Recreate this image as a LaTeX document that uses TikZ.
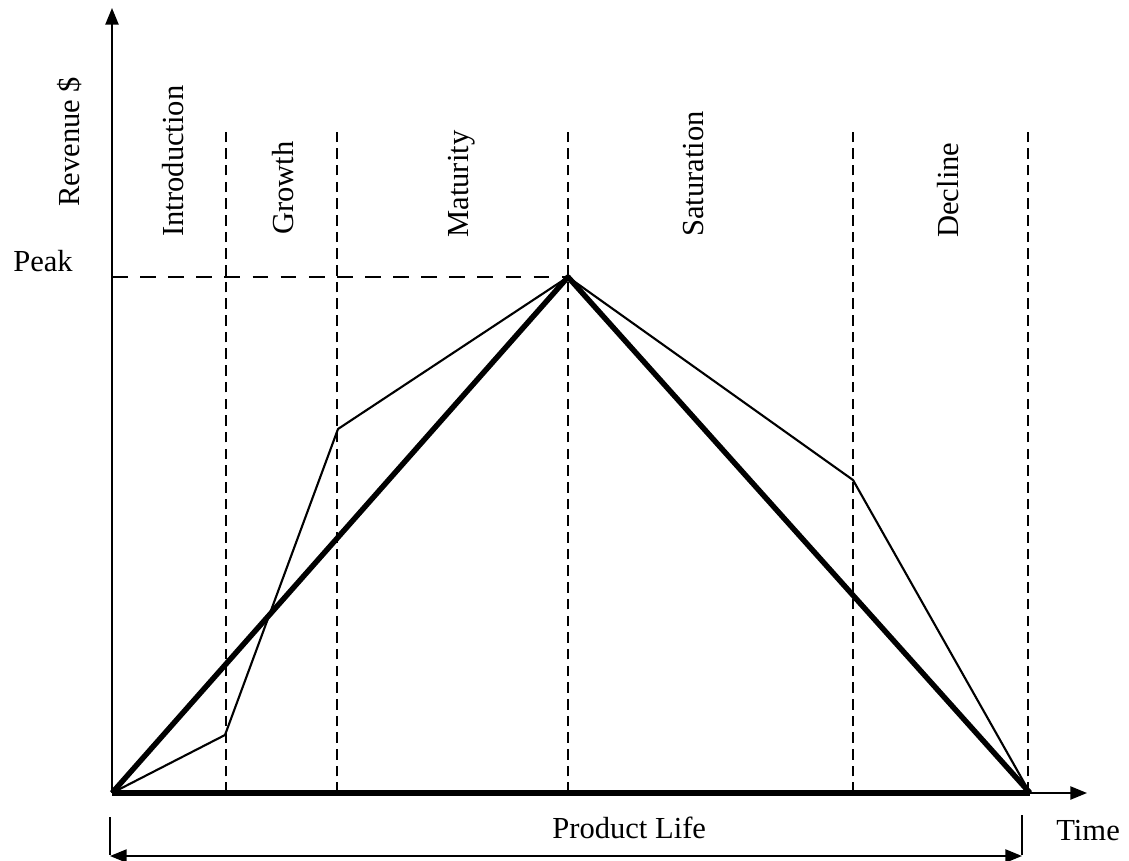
\documentclass[tikz,border=0pt]{standalone}
\usepackage{fontspec}
\setmainfont{Liberation Serif}
\usetikzlibrary{arrows.meta}

\tikzset{
  lbl/.style={font=\fontsize{17.4}{20}\selectfont, inner sep=0pt},
  phaselbl/.style={lbl, rotate=90, anchor=base west},
  phaseline/.style={line width=1.5pt, dash pattern=on 6pt off 3.5pt},
  peakline/.style={line width=1.5pt, dash pattern=on 9pt off 7pt},
  heavy/.style={line width=3.1pt, line join=round},
  light/.style={line width=1.2pt, line join=round}
}

\begin{document}
\begin{tikzpicture}[x=0.02cm, y=0.02cm, >={Triangle[length=9.5pt,width=7.5pt]}]
\useasboundingbox (-112,-67) rectangle (1017,793);
% axes
\coordinate (O) at (0,0);
\coordinate (ytop) at (0,785);
\coordinate (xend) at (918,0);
\coordinate (xtip) at (975,0);
\coordinate (peak) at (456,516);
\coordinate (peaky) at (0,516);
\draw[line width=1.1pt,->] (O) -- (ytop);
\draw[line width=1pt,->] (xend) -- (xtip);
\draw[heavy] (O) -- (xend);

% phase boundaries
\foreach \x in {114,225,456,741,916}
  \draw[phaseline] (\x,0) -- (\x,666);
\draw[peakline] (peaky) -- (peak);

% revenue curves
\draw[light] (O) -- (113,58) -- (226,364) -- (peak) -- (741,313) -- (xend);
\draw[heavy] (O) -- (peak) -- (xend);

% labels
\node[phaselbl] (rev) at (-32,586) {Revenue \$};
\node[phaselbl] (intro) at (71,556) {Introduction};
\node[phaselbl] (growth) at (181,558) {Growth};
\node[phaselbl] (mat) at (356,555) {Maturity};
\node[phaselbl] (sat) at (591,556) {Saturation};
\node[phaselbl] (dec) at (846,555) {Decline};
\node[lbl, anchor=base west] (peaklbl) at (-99,521) {Peak};
\node[lbl, anchor=base west] (time) at (944,-47) {Time};
\node[lbl, anchor=base west] (life) at (440,-45) {Product Life};

% product life span
\coordinate (lifeL) at (-2,-63);
\coordinate (lifeR) at (910,-63);
\draw[line width=1.6pt] (-2,-24) -- (-2,-62);
\draw[line width=1.6pt] (910,-22) -- (910,-62);
\draw[line width=1pt,<->] (lifeL) -- (lifeR);
\end{tikzpicture}
\end{document}
